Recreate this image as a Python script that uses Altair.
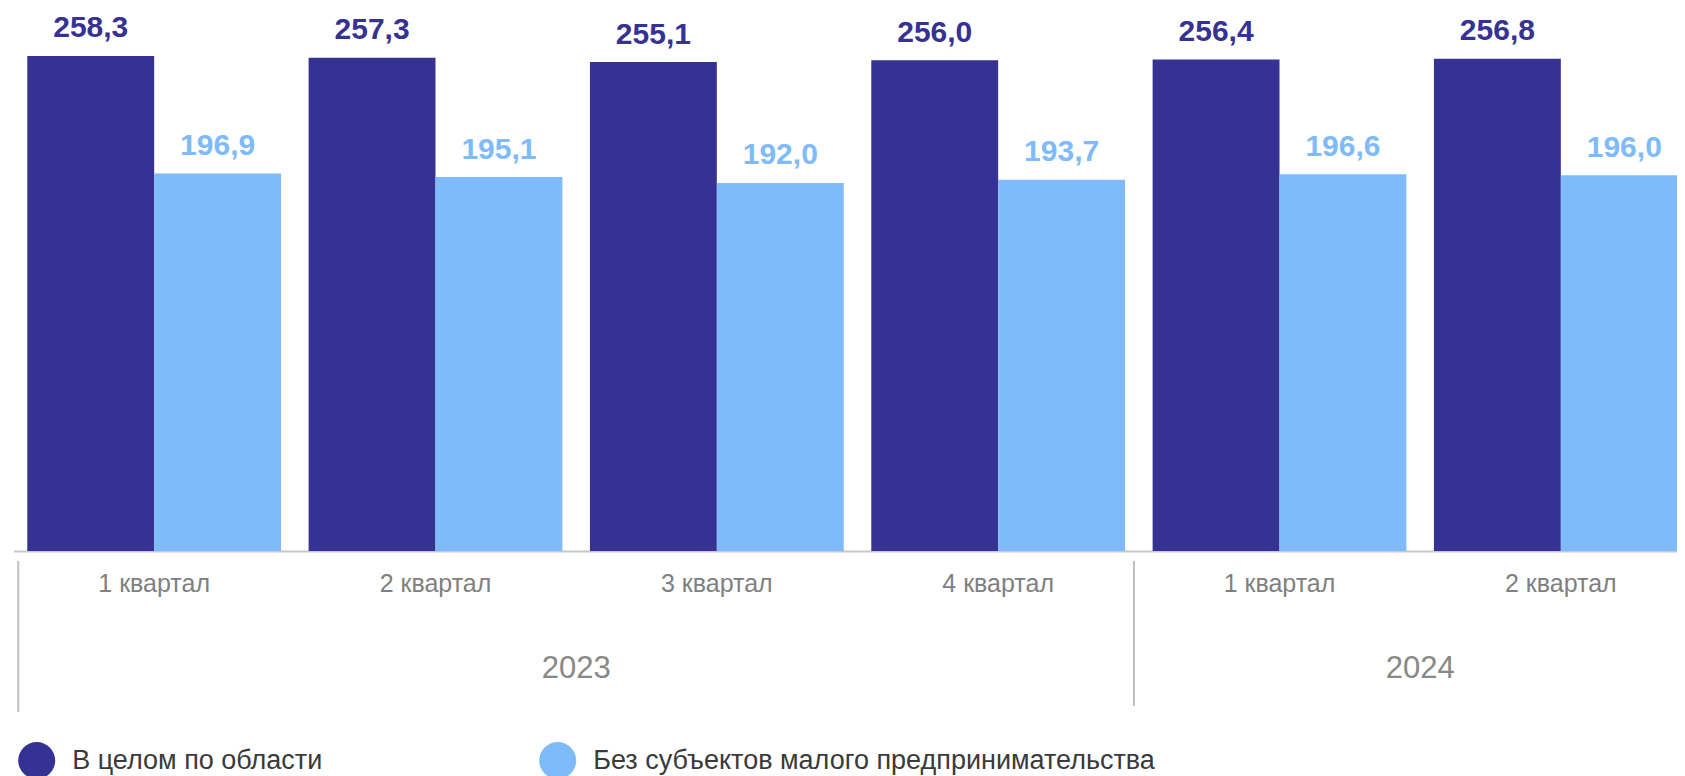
import altair as alt
import pandas as pd

# ---- data ----
years = ["2023", "2023", "2023", "2023", "2024", "2024"]
quarters = ["1 квартал", "2 квартал", "3 квартал", "4 квартал", "1 квартал", "2 квартал"]
total_region = [258.3, 257.3, 255.1, 256.0, 256.4, 256.8]
without_small = [196.9, 195.1, 192.0, 193.7, 196.6, 196.0]
series_names = ["В целом по области", "Без субъектов малого предпринимательства"]
series_colors = ["#363294", "#7FBBFA"]

FONT = "Liberation Sans"
PLOT_W = 1663.5
PLOT_H = 543
RANGE_W = 1688
PAD_INNER = 0.098
PAD_OUTER = 0.049
STEP = RANGE_W / (len(years) - PAD_INNER + 2 * PAD_OUTER)
HALF_GAP = 0.5 * PAD_INNER * STEP

keys = [f"{y}|{q}" for y, q in zip(years, quarters)]
rows = []
for k, a, b in zip(keys, total_region, without_small):
    rows.append({"key": k, "series": series_names[0], "value": a})
    rows.append({"key": k, "series": series_names[1], "value": b})
df = pd.DataFrame(rows)

# year labels anchored to the middle group of each year
year_rows = []
first_rows = []
for y in dict.fromkeys(years):
    ks = [k for k, yy in zip(keys, years) if yy == y]
    year_rows.append({"year": y, "key": ks[len(ks) // 2 - 1]})
    first_rows.append({"year": y, "key": ks[0]})
df_year = pd.DataFrame(year_rows)
df_first = pd.DataFrame(first_rows)

xscale = alt.Scale(domain=keys, range=[0, RANGE_W], paddingInner=PAD_INNER, paddingOuter=PAD_OUTER)
yscale = alt.Scale(domain=[0, 283.3], nice=False, zero=True)
cscale = alt.Scale(domain=series_names, range=series_colors)
offscale = alt.Scale(domain=series_names, paddingInner=0, paddingOuter=0)

base = alt.Chart(df)

bars = base.mark_bar(clip=True).encode(
    x=alt.X("key:N", scale=xscale, sort=keys,
            axis=alt.Axis(title=None, labelExpr="split(datum.label, '|')[1]",
                          labelAngle=0, labelFontSize=25, labelColor="#808080",
                          labelFont=FONT, labelPadding=20, ticks=False, tickSize=0,
                          domainColor="#c8c8c8", domainWidth=2, grid=False)),
    xOffset=alt.XOffset("series:N", scale=offscale, sort=series_names),
    y=alt.Y("value:Q", scale=yscale, axis=None),
    color=alt.Color("series:N", scale=cscale, sort=series_names,
                    legend=alt.Legend(title=None, orient="none", legendX=4.7, legendY=734,
                                      direction="horizontal", columns=2,
                                      symbolType="circle", symbolSize=1369,
                                      symbolStrokeWidth=0, symbolOpacity=1,
                                      labelFontSize=27, labelFont=FONT,
                                      labelColor="#3a3a3a", labelOffset=17,
                                      labelLimit=900, columnPadding=216, padding=0)),
)

labels = base.transform_calculate(
    label="replace(format(datum.value, '.1f'), '.', ',')"
).mark_text(font=FONT, fontSize=30, fontWeight="bold", dy=-18.5, baseline="alphabetic",
            clip=True).encode(
    x=alt.X("key:N", scale=xscale, sort=keys),
    xOffset=alt.XOffset("series:N", scale=offscale, sort=series_names),
    y=alt.Y("value:Q", scale=yscale),
    text="label:N",
    color=alt.Color("series:N", scale=cscale, sort=series_names),
)

year_text = alt.Chart(df_year).mark_text(
    font=FONT, fontSize=31, color="#888888", baseline="alphabetic", align="center",
    dx=HALF_GAP
).encode(
    x=alt.X("key:N", scale=xscale, sort=keys, bandPosition=1),
    y=alt.value(670),
    text="year:N",
)

div_left = alt.Chart(df_first.iloc[[0]]).mark_rule(
    color="#c0c0c0", strokeWidth=2, xOffset=-9
).encode(
    x=alt.X("key:N", scale=xscale, sort=keys, bandPosition=0),
    y=alt.value(553), y2=alt.value(704),
)
div_right = alt.Chart(df_first.iloc[[1]]).mark_rule(
    color="#c0c0c0", strokeWidth=2, xOffset=-18.6
).encode(
    x=alt.X("key:N", scale=xscale, sort=keys, bandPosition=0),
    y=alt.value(553), y2=alt.value(698),
)

chart = alt.layer(bars, labels, year_text, div_left, div_right).properties(
    width=PLOT_W, height=PLOT_H,
    autosize=alt.AutoSizeParams(type="none"),
    padding={"left": 5.5, "top": 0, "right": 0, "bottom": 225},
).configure_view(stroke=None)

chart.save("out.html", embed_options={"renderer": "svg", "actions": False})
